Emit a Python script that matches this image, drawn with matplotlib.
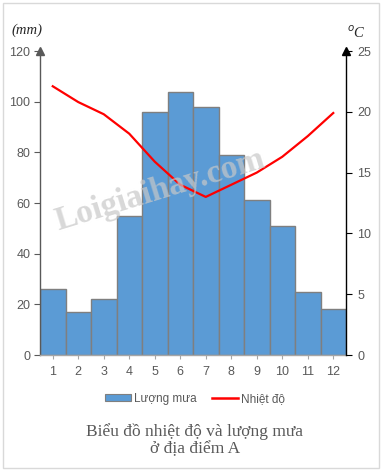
import matplotlib
matplotlib.use("Agg")
import matplotlib.pyplot as plt
from matplotlib.patches import Patch, Rectangle
from matplotlib.lines import Line2D

months = [1, 2, 3, 4, 5, 6, 7, 8, 9, 10, 11, 12]
rain = [26, 17, 22, 55, 96, 104, 98, 79, 61, 51, 25, 18]
temp = [22.1, 20.8, 19.8, 18.2, 15.9, 14.0, 13.0, 14.0, 15.0, 16.3, 18.0, 19.9]
rain_ticks = [0, 20, 40, 60, 80, 100, 120]
temp_ticks = [0, 5, 10, 15, 20, 25]

W, H = 383, 471
fig = plt.figure(figsize=(W / 100, H / 100), dpi=100)
fig.patch.set_facecolor("white")

# figure border
fig.add_artist(Rectangle((3 / W, 1 - 468 / H), (379 - 3) / W, (468 - 3) / H,
                         transform=fig.transFigure, fill=False,
                         edgecolor="#d9d9d9", linewidth=1.0))

left, right, top, bottom = 40, 346, 51, 355
ax = fig.add_axes([left / W, 1 - bottom / H, (right - left) / W, (bottom - top) / H])
ax2 = ax.twinx()

gray = "#595959"
ax.bar(months, rain, width=1.0, color="#5b9bd5", edgecolor="#7f7f7f", linewidth=1.0, zorder=2)
ax.set_xlim(0.5, 12.5)
ax.set_ylim(0, 120)
ax.set_yticks(rain_ticks)
ax.set_xticks(months)
ax.tick_params(axis="y", colors=gray, labelcolor=gray, labelsize=9, length=4, width=0.8, pad=3)
ax.tick_params(axis="x", colors="#a6a6a6", labelcolor=gray, labelsize=9, length=3, width=0.8, pad=5)
for s in ["top", "right"]:
    ax.spines[s].set_visible(False)
ax.spines["left"].set_color(gray)
ax.spines["left"].set_linewidth(1.0)
ax.spines["bottom"].set_color("#a6a6a6")
ax.spines["bottom"].set_linewidth(1.0)

ax2.plot(months, temp, color="#ff0000", linewidth=1.6, zorder=3)
ax2.set_ylim(0, 25)
ax2.set_yticks(temp_ticks)
ax2.tick_params(axis="y", colors="black", labelcolor=gray, labelsize=9, length=4, width=0.8, pad=4)
for s in ["top", "left", "bottom"]:
    ax2.spines[s].set_visible(False)
ax2.spines["right"].set_color("black")
ax2.spines["right"].set_linewidth(1.0)

# axis arrows
ax.plot([0], [1.0], marker="^", markersize=6, color=gray, transform=ax.transAxes, clip_on=False, zorder=5)
ax2.plot([1], [1.0], marker="^", markersize=6, color="black", transform=ax2.transAxes, clip_on=False, zorder=5)

for t in ax.get_yticklabels() + ax.get_xticklabels() + ax2.get_yticklabels():
    t.set_fontfamily("Liberation Sans")

# unit labels
fig.text(11 / W, 1 - 30 / H, "(mm)", fontsize=10.5, fontstyle="italic",
         fontfamily="Liberation Serif", color="#262626", ha="left", va="center")
fig.text(347 / W, 1 - 33 / H, "$^o$C", fontsize=10.5, fontstyle="italic",
         fontfamily="Liberation Serif", color="#262626", ha="left", va="center")

# watermark
fig.text(160 / W, 1 - 190 / H, "Loigiaihay.com", fontsize=24, fontweight="bold",
         fontfamily="Liberation Serif", color="#c8c8c8", alpha=0.7, rotation=17,
         ha="center", va="center", zorder=10)

# legend
handles = [Patch(facecolor="#5b9bd5", edgecolor="#7f7f7f", linewidth=0.8),
           Line2D([0], [0], color="#ff0000", linewidth=1.8)]
leg = fig.legend(handles, ["Lượng mưa", "Nhiệt độ"], loc="center",
                 bbox_to_anchor=(195 / W, 1 - 399 / H), ncol=2, frameon=False,
                 prop={"family": "Liberation Sans", "size": 8.5},
                 handlelength=2.2, handleheight=0.55, handletextpad=0.25, columnspacing=1.3)
for t in leg.get_texts():
    t.set_color(gray)

fig.text(195 / W, 1 - 440 / H, "Biểu đồ nhiệt độ và lượng mưa\nở địa điểm A",
         fontsize=12.5, fontfamily="Liberation Serif", color=gray,
         ha="center", va="center", linespacing=1.1)

fig.savefig("out.png", dpi=100, facecolor="white")
